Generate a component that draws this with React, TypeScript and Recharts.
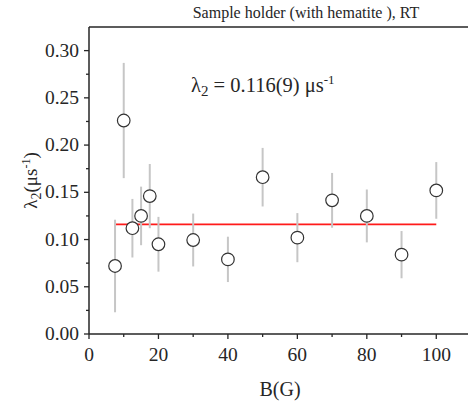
import React from 'react';
import { ScatterChart, Scatter, XAxis, YAxis, ErrorBar, ReferenceLine, Label } from 'recharts';

const fieldB = [7.5, 10, 12.5, 15, 17.5, 20, 30, 40, 50, 60, 70, 80, 90, 100];
const lambda2 = [0.072, 0.226, 0.112, 0.125, 0.146, 0.095, 0.0995, 0.079, 0.166, 0.102, 0.1415, 0.125, 0.084, 0.152];
const lambda2Err = [0.049, 0.061, 0.031, 0.031, 0.034, 0.029, 0.028, 0.024, 0.031, 0.026, 0.029, 0.028, 0.025, 0.030];

const fitValue = 0.116;
const fitStart = 7.5;
const fitEnd = 100;

const xTicks = [0, 10, 20, 30, 40, 50, 60, 70, 80, 90, 100, 110];
const yTicks = [0, 0.025, 0.05, 0.075, 0.1, 0.125, 0.15, 0.175, 0.2, 0.225, 0.25, 0.275, 0.3];
const xDomain = [0, 110];
const yDomain = [0, 0.325];

const data = fieldB.map((b, i) => ({ b, l: lambda2[i], err: lambda2Err[i] }));

const FONT = 'Liberation Serif';
const INK = '#262626';

const YTick = (props: any) => {
  const { x, y, payload } = props;
  const v = payload.value;
  const major = Math.round(v / 0.025) % 2 === 0;
  return (
    <g>
      <line x1={x} x2={x - (major ? 5 : 3)} y1={y} y2={y} stroke={INK} strokeWidth={1.3} />
      {major && (
        <text x={x - 10} y={y + 6} textAnchor="end" fontFamily={FONT} fontSize={19.5} fill={INK}>
          {v.toFixed(2)}
        </text>
      )}
    </g>
  );
};

const XTick = (props: any) => {
  const { x, y, payload } = props;
  const v = payload.value;
  const major = v % 20 === 0;
  return (
    <g>
      <line x1={x} x2={x} y1={y} y2={y + (major ? 5 : 3)} stroke={INK} strokeWidth={1.3} />
      {major && (
        <text x={x} y={y + 27} textAnchor="middle" fontFamily={FONT} fontSize={19.5} fill={INK}>
          {String(v)}
        </text>
      )}
    </g>
  );
};

const YLabel = (props: any) => {
  const vb = props.viewBox || {};
  const cx = 37;
  const cy = vb.y + vb.height / 2;
  return (
    <text
      x={cx}
      y={cy}
      transform={`rotate(-90 ${cx} ${cy})`}
      textAnchor="middle"
      fontFamily={FONT}
      fontSize={19}
      fill={INK}
    >
      λ<tspan dy={4} fontSize={14}>2</tspan>
      <tspan dy={-4}>(μs</tspan>
      <tspan dy={-7} fontSize={12}>-1</tspan>
      <tspan dy={7}>)</tspan>
    </text>
  );
};

const XLabel = (props: any) => {
  const vb = props.viewBox || {};
  const cx = vb.x + vb.width / 2;
  return (
    <text x={cx} y={396} textAnchor="middle" fontFamily={FONT} fontSize={20} fill={INK}>
      B(G)
    </text>
  );
};

const Marker = (p: any) => (
  <circle cx={p.cx} cy={p.cy} r={6.3} fill="#ffffff" stroke="#333333" strokeWidth={1.2} />
);

export default function App() {
  return (
    <div style={{ position: 'absolute', left: 0, top: 0, width: 468, height: 407, overflow: 'hidden', background: '#fff' }}>
      <ScatterChart width={471} height={407} margin={{ top: 27, right: 0, bottom: 0, left: 0 }}>
        <XAxis
          type="number"
          dataKey="b"
          domain={xDomain}
          ticks={xTicks}
          allowDataOverflow
          height={73}
          tickSize={0}
          tickMargin={0}
          tickLine={false}
          axisLine={{ stroke: INK, strokeWidth: 1.5 }}
          tick={<XTick />}
          interval={0}
        >
          <Label content={<XLabel />} />
        </XAxis>
        <YAxis
          type="number"
          dataKey="l"
          domain={yDomain}
          ticks={yTicks}
          allowDataOverflow
          width={89}
          tickSize={0}
          tickMargin={0}
          tickLine={false}
          axisLine={{ stroke: INK, strokeWidth: 1.5 }}
          tick={<YTick />}
          interval={0}
        >
          <Label content={<YLabel />} />
        </YAxis>
        <ReferenceLine y={yDomain[1]} stroke={INK} strokeWidth={1.5} ifOverflow="visible" />
        <ReferenceLine
          segment={[{ x: fitStart, y: fitValue }, { x: fitEnd, y: fitValue }]}
          stroke="#ff1a1a"
          strokeWidth={1.8}
        />
        <Scatter data={data} isAnimationActive={false} shape={<Marker />}>
          <ErrorBar dataKey="err" direction="y" width={0} stroke="#c6c6c6" strokeWidth={2} />
        </Scatter>
      </ScatterChart>
      <svg width={468} height={407} style={{ position: 'absolute', left: 0, top: 0, pointerEvents: 'none' }}>
        <text x={306} y={18} textAnchor="middle" fontFamily={FONT} fontSize={16} fill={INK}>
          Sample holder (with hematite ), RT
        </text>
        <text x={191} y={92} fontFamily={FONT} fontSize={20.5} fill={INK}>
          λ<tspan dy={4} fontSize={15}>2</tspan>
          <tspan dy={-4}> = 0.116(9) μs</tspan>
          <tspan dy={-8} fontSize={13}>-1</tspan>
        </text>
      </svg>
    </div>
  );
}
